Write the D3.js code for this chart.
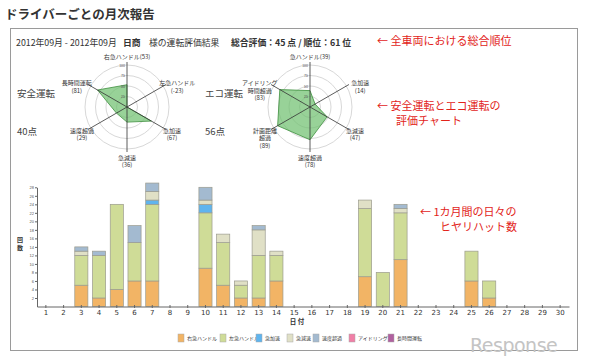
<!DOCTYPE html>
<html>
<head>
<meta charset="utf-8">
<script src="https://cdn.jsdelivr.net/npm/d3@7/dist/d3.min.js"></script>
<style>
  body { margin: 0; background: #fff; }
  svg { display: block; font-family: "Noto Sans CJK JP", "Noto Sans", sans-serif; }
</style>
</head>
<body>
<div id="chart"></div>
<script>
const days = d3.range(1, 31);
const categories = ["右急ハンドル", "左急ハンドル", "急加速", "急減速", "速度超過", "アイドリング", "長時間運転"];
// daily counts, index 0 = day 1
const rightSharp = [0,0,5,2,4,6,6,0,0,9,5,2,2,6,0,0,0,0,7,0,11,0,0,0,6,2,0,0,0,0];
const leftSharp  = [0,0,7,10,20,9,18,0,0,13,10,3,10,6,0,0,0,0,16,8,11,0,0,0,7,4,0,0,0,0];
const accel      = [0,0,0,0,0,0,1,0,0,2,0,0,0,0,0,0,0,0,0,0,0,0,0,0,0,0,0,0,0,0];
const decel      = [0,0,1,0,0,0,2,0,0,1,2,1,6,1,0,0,0,0,2,0,1,0,0,0,0,0,0,0,0,0];
const speeding   = [0,0,1,1,0,4,2,0,0,3,0,0,1,0,0,0,0,0,0,0,1,0,0,0,0,0,0,0,0,0];
const idling     = [0,0,0,0,0,0,0,0,0,0,0,0,0,0,0,0,0,0,0,0,0,0,0,0,0,0,0,0,0,0];
const longDrive  = [0,0,0,0,0,0,0,0,0,0,0,0,0,0,0,0,0,0,0,0,0,0,0,0,0,0,0,0,0,0];
const yTicks = [2,4,6,8,10,12,14,16,18,20,22,24,26,28];

const safetyAxes = ["右急ハンドル", "左急ハンドル", "急加速", "急減速", "速度超過", "長時間運転"];
const safetyValues = [53, -23, 67, 36, 29, 81];
const ecoAxes = ["急ハンドル", "急加速", "急減速", "速度超過", "計画距離\n超過", "アイドリング\n時間超過"];
const ecoValues = [39, 14, 47, 78, 89, 83];
const radarTicks = [25, 50, 75, 100];

(function() {
  const W = 592, H = 363;
  const COLORS = ["#f2b465", "#cfdc97", "#5fb4ee", "#e0e0c6", "#a3bad0", "#f07fa6", "#b0609f"];
  const RED = "#e2231a";

  const svg = d3.select("#chart").append("svg").attr("width", W).attr("height", H);

  // title + frame
  svg.append("text")
    .attr("x", 5).attr("y", 19)
    .text("ドライバーごとの月次報告")
    .style("font-size", "12.5px").style("font-weight", "bold").style("fill", "#333");

  svg.append("rect")
    .attr("x", 10.5).attr("y", 28.5).attr("width", 567).attr("height", 322)
    .attr("fill", "none").attr("stroke", "#9a9a9a");

  const header = [
    { t: "2012年09月 - 2012年09月", x: 16, b: false },
    { t: "日商", x: 123, b: true },
    { t: "様の運転評価結果", x: 149, b: false },
    { t: "総合評価：45 点 / 順位：61 位", x: 231, b: true }
  ];
  svg.append("g").selectAll("text").data(header).enter().append("text")
    .attr("x", d => d.x).attr("y", 46)
    .text(d => d.t)
    .style("font-size", "8.8px")
    .style("font-weight", d => d.b ? "bold" : "normal")
    .style("fill", "#333");

  // red annotations
  const notes = [
    { t: "← 全車両における総合順位", x: 377, y: 45 },
    { t: "← 安全運転とエコ運転の", x: 377, y: 110 },
    { t: "評価チャート", x: 396, y: 125 },
    { t: "← 1カ月間の日々の", x: 420, y: 216 },
    { t: "ヒヤリハット数", x: 440, y: 231 }
  ];
  svg.append("g").selectAll("text").data(notes).enter().append("text")
    .attr("x", d => d.x).attr("y", d => d.y)
    .text(d => d.t)
    .style("font-size", "11px").style("fill", RED);

  // side labels of radars
  const sideLabels = [
    { t: "安全運転", x: 17, y: 97 }, { t: "40点", x: 17, y: 135 },
    { t: "エコ運転", x: 205, y: 97 }, { t: "56点", x: 205, y: 135 }
  ];
  svg.append("g").selectAll("text").data(sideLabels).enter().append("text")
    .attr("x", d => d.x).attr("y", d => d.y)
    .text(d => d.t)
    .style("font-size", "9.5px").style("fill", "#444");

  function drawRadar(cx, cy, axes, values) {
    const r = d3.scaleLinear().domain([0, 100]).range([0, 42]).clamp(true);
    const angle = i => (i * Math.PI * 2) / axes.length - Math.PI / 2;
    const g = svg.append("g").attr("transform", `translate(${cx},${cy})`);

    g.selectAll("circle").data(radarTicks).enter().append("circle")
      .attr("r", d => r(d)).attr("fill", "none").attr("stroke", "#d8d8d8");

    const pts = values.map((v, i) => [Math.cos(angle(i)) * r(v), Math.sin(angle(i)) * r(v)]);
    g.append("path")
      .attr("d", d3.line()(pts) + "Z")
      .attr("fill", "#6cbf6c").attr("fill-opacity", 0.7)
      .attr("stroke", "#3d8f3d").attr("stroke-width", 0.8);

    g.selectAll("line.ax").data(axes).enter().append("line")
      .attr("x1", 0).attr("y1", 0)
      .attr("x2", (d, i) => Math.cos(angle(i)) * 45)
      .attr("y2", (d, i) => Math.sin(angle(i)) * 45)
      .attr("stroke", "#333").attr("stroke-width", 0.8);

    g.selectAll("text.tick").data(radarTicks).enter().append("text")
      .attr("x", -2).attr("y", d => -r(d) + 1.5)
      .attr("text-anchor", "end")
      .text(d => d)
      .style("font-size", "3.5px").style("fill", "#555");

    axes.forEach((name, i) => {
      const a = angle(i);
      const upper = Math.sin(a) < 0;
      const vertical = Math.abs(Math.cos(a)) < 0.01;
      const lx = Math.cos(a) * (upper ? 58 : 52);
      const cyFirst = Math.sin(a) * (vertical ? 50.5 : 47.5);
      const lines = name.split("\n");
      if (i === 0) lines[0] = lines[0] + `(${values[i]})`;
      else lines.push(`(${values[i]})`);
      const t = g.append("text")
        .attr("text-anchor", "middle")
        .style("font-size", "6px").style("fill", "#333");
      lines.forEach((l, k) => {
        t.append("tspan").attr("x", lx).attr("y", cyFirst + 2 + k * 7.5).text(l);
      });
    });
  }

  drawRadar(127, 107, safetyAxes, safetyValues);
  drawRadar(310, 107, ecoAxes, ecoValues);

  // stacked bar chart
  const series = [rightSharp, leftSharp, accel, decel, speeding, idling, longDrive];
  const table = days.map((d, i) => {
    const row = { day: d };
    categories.forEach((c, k) => { row[c] = series[k][i]; });
    return row;
  });
  const stacked = d3.stack().keys(categories)(table);

  const x = d3.scaleBand().domain(days).range([37, 569]).paddingInner(0.26).paddingOuter(0.13);
  const y = d3.scaleLinear().domain([0, 28]).range([306.5, 187.3]);

  const chart = svg.append("g");
  chart.selectAll("g.layer").data(stacked).enter().append("g")
    .attr("fill", (d, i) => COLORS[i])
    .selectAll("rect")
    .data(d => d.filter(s => s[1] - s[0] > 0))
    .enter().append("rect")
    .attr("x", d => x(d.data.day))
    .attr("y", d => y(d[1]))
    .attr("width", x.bandwidth())
    .attr("height", d => y(d[0]) - y(d[1]))
    .attr("stroke", "#9b9b8e").attr("stroke-width", 0.7);

  const xAxis = chart.append("g")
    .attr("transform", `translate(0,${y(0)})`)
    .call(d3.axisBottom(x).tickSize(3).tickSizeOuter(0));
  xAxis.select(".domain").attr("stroke", "#666");
  xAxis.selectAll(".tick line").attr("stroke", "#666").attr("transform", "translate(0,-1.5)");
  xAxis.selectAll(".tick text").style("font-size", "7px").style("fill", "#333")
    .style("font-family", "DejaVu Sans, sans-serif").attr("y", 3.5);

  const yAxis = chart.append("g")
    .attr("transform", "translate(37,0)")
    .call(d3.axisLeft(y).tickValues(yTicks).tickSize(2).tickSizeOuter(0));
  yAxis.select(".domain").attr("stroke", "#666");
  yAxis.selectAll(".tick line").attr("stroke", "#666");
  yAxis.selectAll(".tick text").style("font-size", "4px").style("fill", "#555").attr("x", -3);

  svg.append("text")
    .attr("transform", "translate(20,242)")
    .attr("text-anchor", "middle")
    .selectAll("tspan").data(["回", "数"]).enter().append("tspan")
    .attr("x", 0).attr("dy", (d, i) => i ? 8 : 0).text(d => d)
    .style("font-size", "6px").style("font-weight", "bold").style("fill", "#333");

  svg.append("text")
    .attr("x", 297).attr("y", 324).attr("text-anchor", "middle")
    .text("日 付")
    .style("font-size", "6.5px").style("font-weight", "bold").style("fill", "#333");

  // legend
  const legendX = [178, 220, 256, 287, 313, 349, 388];
  const legend = svg.append("g").selectAll("g").data(categories).enter().append("g")
    .attr("transform", (d, i) => `translate(${legendX[i]},334)`);
  legend.append("rect")
    .attr("width", 6).attr("height", 8)
    .attr("fill", (d, i) => COLORS[i]).attr("stroke", "#aaa").attr("stroke-width", 0.5);
  legend.append("text")
    .attr("x", 9).attr("y", 6)
    .text(d => d)
    .style("font-size", "5px").style("fill", "#333");

  // watermark
  svg.append("text")
    .attr("x", 470).attr("y", 352)
    .text("Response")
    .style("font-family", "DejaVu Sans, sans-serif")
    .style("font-size", "19px").style("fill", "#c4c4c4").style("letter-spacing", "-0.5px");
})();
</script>
</body>
</html>
